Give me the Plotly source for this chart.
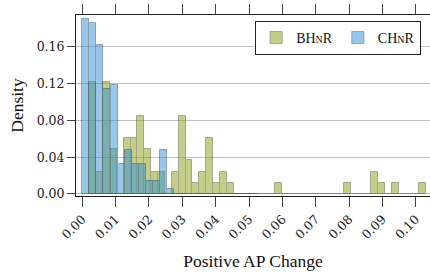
import plotly.graph_objects as go

# ---- data ----
bhnr_bin_start = 0.00210
bhnr_bin_width = 0.002063
bhnr_density = [0.122, 0.024, 0.122, 0.049, 0.000, 0.061, 0.061, 0.085, 0.049, 0.024,
                0.024, 0.000, 0.024, 0.085, 0.037, 0.012, 0.024, 0.061, 0.012, 0.024,
                0.012, 0.000, 0.000, 0.000, 0.000, 0.000, 0.000, 0.012, 0.000, 0.000,
                0.000, 0.000, 0.000, 0.000, 0.000, 0.000, 0.000, 0.012, 0.000, 0.000,
                0.000, 0.024, 0.012, 0.000, 0.012, 0.000, 0.000, 0.000, 0.012]

chnr_bin_start = 0.0
chnr_bin_width = 0.002115
chnr_density = [0.190, 0.186, 0.162, 0.114, 0.119, 0.033, 0.048, 0.033, 0.033, 0.014,
                0.014, 0.048, 0.005, 0.000, 0.000, 0.000, 0.000, 0.000, 0.000, 0.000,
                0.000, 0.000, 0.000, 0.000, 0.000]

x_ticks = [0.00, 0.01, 0.02, 0.03, 0.04, 0.05, 0.06, 0.07, 0.08, 0.09, 0.10]
y_ticks = [0.00, 0.04, 0.08, 0.12, 0.16]

series_names = ["BH<span style='font-size:10px'>N</span>R",
                "CH<span style='font-size:10px'>N</span>R"]


def centers(start, width, n):
    return [start + width * (i + 0.5) for i in range(n)]


fig = go.Figure()
fig.add_trace(go.Bar(
    x=centers(bhnr_bin_start, bhnr_bin_width, len(bhnr_density)),
    y=bhnr_density, width=bhnr_bin_width, name=series_names[0],
    marker=dict(color="rgb(139,159,21)", line=dict(color="rgb(70,80,30)", width=1)),
    opacity=0.5,
))
fig.add_trace(go.Bar(
    x=centers(chnr_bin_start, chnr_bin_width, len(chnr_density)),
    y=chnr_density, width=chnr_bin_width, name=series_names[1],
    marker=dict(color="rgb(51,145,215)", line=dict(color="rgb(30,70,110)", width=1)),
    opacity=0.5,
))

tick_font = dict(family="DejaVu Serif", size=12.5, color="#222")
fig.update_layout(
    width=430, height=278,
    margin=dict(l=76, r=0, t=15, b=82),
    paper_bgcolor="white", plot_bgcolor="white",
    barmode="overlay", bargap=0,
    font=dict(family="Liberation Serif", color="#111"),
    showlegend=True,
    legend=dict(
        orientation="h", x=0.975, xanchor="right", y=0.967, yanchor="top",
        bordercolor="#222", borderwidth=1, bgcolor="white",
        font=dict(family="Liberation Serif", size=14, color="#111"),
        traceorder="normal", itemwidth=30,
    ),
)
fig.update_xaxes(
    range=[-0.00189, 0.10429], tickvals=x_ticks, automargin=False,
    ticktext=[f"{v:.2f}" for v in x_ticks], tickangle=-45,
    ticks="outside", ticklen=10, tickcolor="#444", tickwidth=1,
    showline=True, linecolor="#222", linewidth=1, mirror="ticks",
    showgrid=False, zeroline=False, tickfont=tick_font,
    title=dict(text="Positive AP Change", font=dict(family="Liberation Serif", size=17.5), standoff=13),
)
fig.update_yaxes(
    range=[-0.0022, 0.1948], tickvals=y_ticks, automargin=False,
    ticktext=[f"{v:.2f}" for v in y_ticks],
    ticks="outside", ticklen=8, tickcolor="#444", tickwidth=1,
    showline=True, linecolor="#222", linewidth=1, mirror="ticks",
    showgrid=True, gridcolor="#c0c0c0", gridwidth=1, zeroline=False,
    tickfont=tick_font,
    title=dict(text="Density", font=dict(family="Liberation Serif", size=17.5), standoff=8),
)

fig.write_html("out.html", config={"displayModeBar": False},
               post_script="document.body.style.margin='0';")
